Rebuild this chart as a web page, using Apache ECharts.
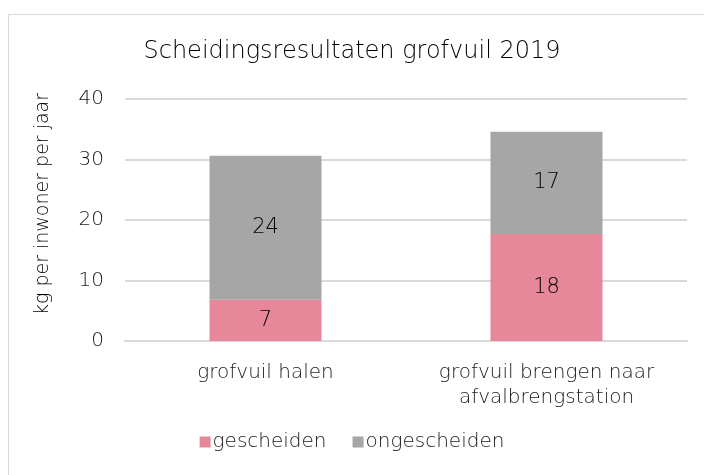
<!DOCTYPE html>
<html>
<head>
<meta charset="utf-8">
<script src="https://cdn.jsdelivr.net/npm/echarts@6/dist/echarts.min.js"></script>
<style>
  html, body { margin: 0; padding: 0; background: #fff; }
  #chart { width: 704px; height: 475px; }
</style>
</head>
<body>
<div id="chart"></div>
<script>
// data
const categories = ['grofvuil halen', 'grofvuil brengen naar\nafvalbrengstation']
const gescheiden = [6.8, 17.7]
const ongescheiden = [23.8, 16.9]
const yTicks = { min: 0, max: 40, interval: 10 }

const font = '"DejaVu Sans", sans-serif'

const chart = echarts.init(document.getElementById('chart'), null, { renderer: 'canvas' })

const labelStyle = {
  show: true,
  position: 'inside',
  color: '#000',
  fontSize: 21,
  fontWeight: 200,
  fontFamily: font,
  formatter: p => Math.round(p.value)
}

chart.setOption({
  animation: false,
  graphic: [
    {
      type: 'rect',
      shape: { x: 8.5, y: 14.5, width: 720, height: 480 },
      style: { fill: 'none', stroke: '#d9d9d9', lineWidth: 1 },
      silent: true
    }
  ],
  title: {
    text: 'Scheidingsresultaten grofvuil 2019',
    left: 'center',
    top: 35,
    textStyle: { fontFamily: font, fontWeight: 200, fontSize: 24, color: '#000' }
  },
  legend: {
    data: ['gescheiden', 'ongescheiden'],
    bottom: 18,
    left: 'center',
    itemWidth: 11,
    itemHeight: 11,
    itemGap: 26,
    icon: 'rect',
    textStyle: { fontFamily: font, fontWeight: 200, fontSize: 20, color: '#1a1a1a', padding: [0, 0, 0, -3] }
  },
  grid: { left: 125, right: 17, top: 99, bottom: 134 },
  xAxis: {
    type: 'category',
    data: categories,
    axisLine: { lineStyle: { color: '#d9d9d9', width: 2 } },
    axisTick: { show: false },
    axisLabel: { fontFamily: font, fontWeight: 200, fontSize: 20, color: '#1a1a1a', margin: 19, lineHeight: 25 }
  },
  yAxis: {
    type: 'value',
    min: yTicks.min,
    max: yTicks.max,
    interval: yTicks.interval,
    name: 'kg per inwoner per jaar',
    nameLocation: 'middle',
    nameGap: 72,
    nameTextStyle: { fontFamily: font, fontWeight: 200, fontSize: 19, color: '#000', padding: [0, 0, 0, 32] },
    axisLine: { show: false },
    axisTick: { show: false },
    axisLabel: { fontFamily: font, fontWeight: 200, fontSize: 20, color: '#1a1a1a', margin: 21 },
    splitLine: { lineStyle: { color: '#d9d9d9', width: 2 } }
  },
  series: [
    {
      name: 'gescheiden',
      type: 'bar',
      stack: 'total',
      barWidth: 112,
      data: gescheiden,
      itemStyle: { color: '#e6889a', opacity: 1 },
      label: labelStyle
    },
    {
      name: 'ongescheiden',
      type: 'bar',
      stack: 'total',
      barWidth: 112,
      data: ongescheiden,
      itemStyle: { color: '#a6a6a6' },
      label: labelStyle
    }
  ]
})
</script>
</body>
</html>
